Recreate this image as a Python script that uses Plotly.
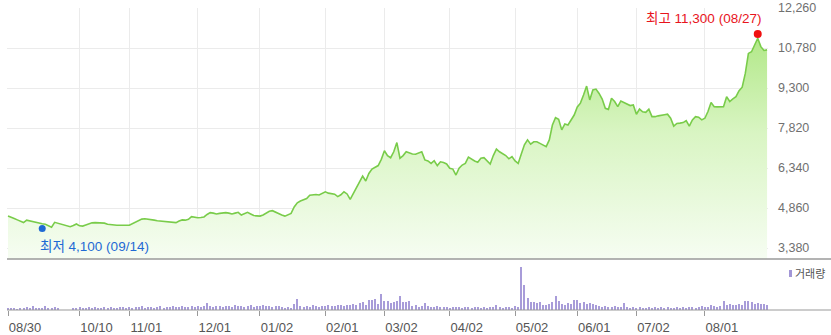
import plotly.graph_objects as go

# ---- data ----
prices = [
    4560, 4500, 4470, 4420, 4380, 4320, 4410, 4380, 4350, 4330,
    4300, 4280, 4260, 4200, 4150, 4330, 4300, 4260, 4230, 4200,
    4170, 4210, 4270, 4200, 4190, 4230, 4270, 4310, 4320, 4310,
    4320, 4300, 4260, 4240, 4230, 4220, 4220, 4210, 4220, 4220,
    4270, 4320, 4380, 4450, 4460, 4450, 4430, 4410, 4390, 4380,
    4370, 4370, 4350, 4330, 4320, 4380, 4420, 4410, 4440, 4540,
    4520, 4500, 4510, 4530, 4620, 4690, 4670, 4640, 4660, 4680,
    4690, 4670, 4640, 4670, 4700, 4600, 4660, 4700, 4640, 4580,
    4570, 4560, 4600, 4660, 4740, 4760, 4700, 4660, 4600, 4560,
    4600, 4660, 4900, 5050, 5120, 5180, 5210, 5330, 5350, 5360,
    5340, 5400, 5460, 5410, 5390, 5370, 5280, 5350, 5460, 5380,
    5180, 5400, 5590, 5800, 6040, 5860, 6140, 6300, 6360, 6430,
    6660, 6980, 6800, 6720, 6940, 7280, 6700, 6800, 6940, 6900,
    6860, 6850, 6900, 6940, 6640, 6600, 6510, 6610, 6430, 6570,
    6540, 6490, 6330, 6300, 6080, 6330, 6450, 6510, 6740, 6660,
    6600, 6550, 6700, 6720, 6620, 6490, 6800, 7040, 6940, 6880,
    6800, 6680, 6760, 6600, 6510, 6860, 7200, 7380, 7220, 7310,
    7310, 7250, 7190, 7130, 7380, 7930, 8200, 8140, 7750, 7970,
    7930, 8100, 8300, 8600, 8740, 9040, 9370, 8860, 9230, 9260,
    9100, 8890, 8550, 8510, 8920, 8800, 8610, 8820, 8760, 8710,
    8650, 8670, 8330, 8520, 8420, 8400, 8520, 8240, 8240, 8270,
    8300, 8310, 8330, 8180, 7890, 7990, 8000, 8020, 8090, 7890,
    8120, 8240, 8220, 8120, 8180, 8430, 8760, 8610, 8600, 8610,
    8610, 8980, 8800, 8900, 8980, 9200, 9330, 9840, 10580, 10640,
    10900, 11140, 10830, 10690, 10710,
]

volumes = [
    200, 150, 200, 100, 150, 200, 300, 150, 400, 200,
    150, 200, 400, 250, 200, 300, 200, 0, 0, 0,
    0, 250, 200, 300, 250, 200, 300, 250, 300, 200,
    250, 300, 200, 300, 250, 200, 300, 350, 250, 300,
    250, 350, 300, 400, 250, 300, 350, 200, 300, 400,
    250, 350, 300, 400, 350, 300, 450, 350, 300, 400,
    350, 400, 350, 450, 700, 400, 350, 450, 400, 350,
    450, 400, 350, 500, 400, 450, 350, 400, 500, 350,
    450, 400, 500, 400, 450, 350, 450, 400, 300, 250,
    300, 250, 650, 1100, 400, 350, 450, 300, 500, 400,
    350, 450, 400, 500, 450, 400, 500, 550, 450, 550,
    500, 600, 550, 750, 800, 500, 1000, 1000, 1100, 600,
    1600, 950, 900, 700, 800, 900, 1400, 850, 800, 900,
    450, 500, 350, 400, 700, 400, 350, 300, 400, 350,
    300, 350, 250, 300, 350, 300, 250, 350, 300, 250,
    300, 350, 250, 300, 250, 300, 350, 500, 300, 250,
    350, 300, 250, 400, 300, 4300, 2500, 1200, 800, 800,
    750, 800, 550, 500, 600, 800, 1400, 900, 600, 500,
    700, 600, 1000, 1000, 700, 800, 650, 700, 600, 500,
    400, 350, 400, 300, 350, 400, 300, 350, 700, 300,
    250, 300, 250, 300, 250, 200, 300, 250, 300, 250,
    300, 250, 300, 250, 200, 300, 250, 300, 250, 350,
    300, 250, 350, 400, 300, 350, 500, 400, 300, 450,
    900, 500, 600, 500, 550, 600, 500, 900, 900, 850,
    600, 700, 650, 600, 500,
]

tick_idx = [0, 23, 39, 61, 81, 102, 121, 142, 163, 183, 202, 224]
tick_labels = ["08/30", "10/10", "11/01", "12/01", "01/02", "02/01",
               "03/02", "04/02", "05/02", "06/01", "07/02", "08/01"]

price_ticks = [3380, 4860, 6340, 7820, 9300, 10780, 12260]

high_idx, high_val, high_text = 241, 11300, "최고 11,300 (08/27)"
low_idx, low_val, low_text = 11, 4100, "최저 4,100 (09/14)"

days = list(range(len(prices)))

FONT = "Liberation Sans, Arial, Noto Sans CJK KR, sans-serif"

fig = go.Figure()

fig.add_trace(go.Scatter(
    x=days, y=prices, mode="lines",
    line=dict(color="#79cc4a", width=1.6),
    fill="tozeroy",
    fillgradient=dict(type="vertical", start=2973, stop=12260,
                      colorscale=[[0, "#f6fdf2"], [0.5, "#d9f5c3"], [1, "#a6e477"]]),
    xaxis="x", yaxis="y", hoverinfo="skip", showlegend=False,
))

fig.add_trace(go.Scatter(
    x=[high_idx], y=[high_val], mode="markers",
    marker=dict(color="#f01010", size=8),
    xaxis="x", yaxis="y", showlegend=False, hoverinfo="skip",
))
fig.add_trace(go.Scatter(
    x=[low_idx], y=[low_val], mode="markers",
    marker=dict(color="#1f6ad4", size=7),
    xaxis="x", yaxis="y", showlegend=False, hoverinfo="skip",
))

fig.add_trace(go.Bar(
    x=days, y=volumes, width=0.32,
    marker=dict(color="#a89cd9", line=dict(width=0)),
    xaxis="x2", yaxis="y2", showlegend=False, hoverinfo="skip",
))

DOM_R = 761 / 824
fig.update_layout(
    width=831, height=335,
    margin=dict(l=7, r=0, t=8, b=25),
    paper_bgcolor="white", plot_bgcolor="white",
    font=dict(family=FONT, size=12, color="#666"),
    bargap=0,
    xaxis=dict(domain=[0, DOM_R], range=[-0.32, 244.3], anchor="y",
               tickvals=tick_idx, showticklabels=False, ticks="",
               showgrid=True, gridcolor="#ebebeb", gridwidth=1,
               zeroline=False, showline=False),
    yaxis=dict(domain=[51 / 302, 1], range=[2973, 12260], side="right",
               anchor="x", tickvals=price_ticks, tickformat=",d",
               showgrid=True, gridcolor="#ebebeb", gridwidth=1,
               zeroline=False, showline=False, ticks="",
               ticklabelstandoff=9,
               tickfont=dict(size=12.5, color="#707070")),
    xaxis2=dict(domain=[0, DOM_R], range=[-0.32, 244.3], anchor="y2",
                matches="x", tickvals=tick_idx, ticktext=tick_labels,
                ticks="outside", ticklen=5, tickcolor="#999", tickwidth=1,
                ticklabelshift=17, showgrid=False, zeroline=False,
                showline=False, tickfont=dict(size=13, color="#555")),
    yaxis2=dict(domain=[0, 45 / 302], range=[0, 4500], anchor="x2",
                visible=False),
    shapes=[
        dict(type="line", xref="paper", yref="paper", x0=0, x1=1,
             y0=51 / 302, y1=51 / 302, line=dict(color="#9a9a9a", width=1.5)),
        dict(type="line", xref="paper", yref="paper", x0=0, x1=1,
             y0=0, y1=0, line=dict(color="#9a9a9a", width=1.2)),
        dict(type="rect", xref="paper", yref="paper",
             x0=782 / 824, x1=785 / 824, y0=(310 - 277) / 302, y1=(310 - 270) / 302,
             fillcolor="#a296d6", line=dict(width=0)),
    ],
    annotations=[
        dict(x=high_idx, y=high_val, xref="x", yref="y", text=high_text,
             showarrow=False, xanchor="right", yanchor="bottom",
             xshift=5, yshift=6, font=dict(size=13.5, color="#e8141c")),
        dict(x=low_idx, y=low_val, xref="x", yref="y", text=low_text,
             showarrow=False, xanchor="left", yanchor="top",
             xshift=-4, yshift=-8, font=dict(size=13.5, color="#1f6ad4")),
        dict(x=786 / 824, y=(310 - 273.5) / 302, xref="paper", yref="paper",
             text="거래량", showarrow=False, xanchor="left", yanchor="middle",
             font=dict(size=11, color="#555")),
    ],
)

fig.write_html("out.html")
